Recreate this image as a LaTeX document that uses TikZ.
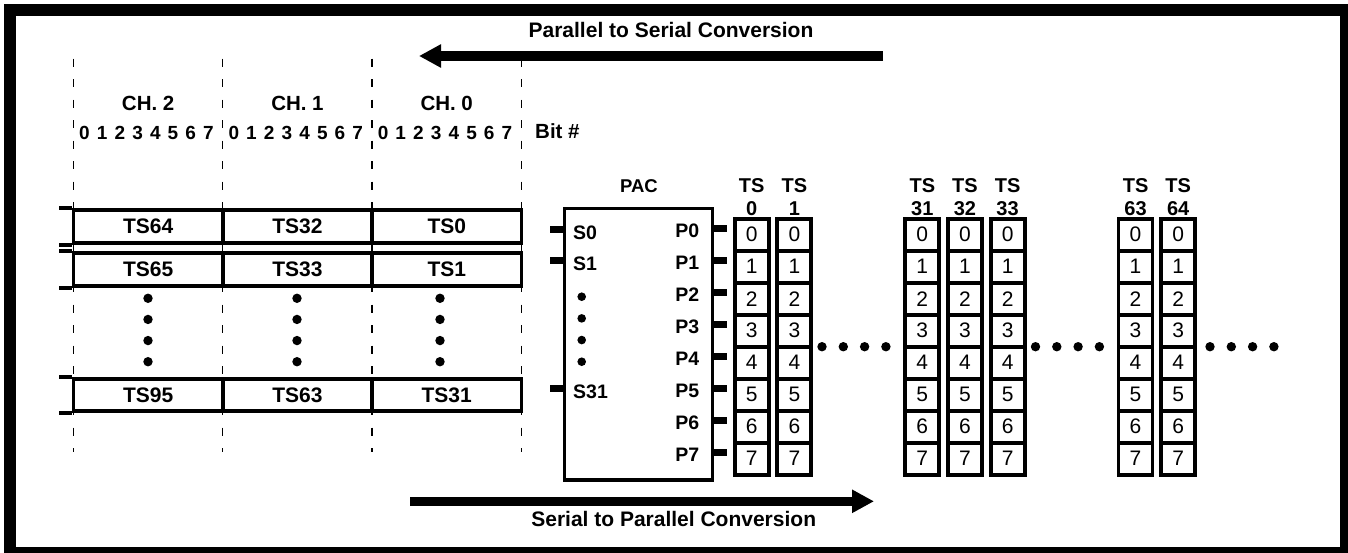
\documentclass[tikz,border=0pt]{standalone}
\usepackage{fontspec}
\setmainfont{Liberation Sans}
\usetikzlibrary{arrows.meta}
\begin{document}
\begin{tikzpicture}[x=1pt,y=-1pt,
  lbl/.style={font=\bfseries\fontsize{20.5}{24}\selectfont, inner sep=0pt, anchor=base},
  biglbl/.style={font=\bfseries\fontsize{21}{24}\selectfont, inner sep=0pt, anchor=base},
  bitnum/.style={font=\bfseries\fontsize{19}{22}\selectfont, inner sep=0pt, anchor=base},
  pinlbl/.style={font=\bfseries\fontsize{19.5}{22}\selectfont, inner sep=0pt},
  tscell/.style={draw, line width=3.8pt, minimum width=149.3pt, minimum height=32.7pt, inner sep=0pt, font=\bfseries\fontsize{21}{24}\selectfont},
  bitcell/.style={draw, line width=3.8pt, minimum width=34pt, minimum height=32pt, inner sep=0pt, font=\fontsize{21}{24}\selectfont},
  blob/.style={circle, fill, inner sep=0pt, minimum size=9.4pt},
  pin/.style={line width=7pt},
  bigarrow/.style={line width=10pt, -{Triangle[length=22pt,width=22pt]}},
  guide/.style={line width=1.2pt, dash pattern=on 8pt off 12.5pt},
]
\useasboundingbox (0,0) rectangle (1348,552);
\clip (0,0) rectangle (1348,552);
% frame
\draw[line width=11.5pt] (9.75,10) rectangle (1345.75,552.25);

% conversion arrows
\coordinate (ptsTail) at (883,56);
\coordinate (ptsTip) at (419,56);
\draw[bigarrow] (ptsTail) -- (ptsTip);
\node[biglbl] (ptsLbl) at (671,37.3) {Parallel to Serial Conversion};
\coordinate (stpTail) at (410,501.3);
\coordinate (stpTip) at (874,501.3);
\draw[bigarrow, line width=9.5pt] (stpTail) -- (stpTip);
\node[biglbl] (stpLbl) at (673.7,526.7) {Serial to Parallel Conversion};

% dashed guides
\foreach \gx [count=\g] in {73.5,222.8,372.05,521.4}{
  \coordinate (gt\g) at (\gx,58.5);
  \coordinate (gb\g) at (\gx,452);
  \draw[guide] (gt\g) -- (gb\g);
}

% channel headers and bit numbers
\foreach \gx/\ch [count=\g] in {73.5/2,222.8/1,372.05/0}{
  \node[lbl] (ch\ch) at ({\gx+74.65},110.7) {CH. \ch};
  \foreach \b in {0,...,7}{
    \node[bitnum] (bit\ch-\b) at ({\gx+11+17.7*\b},139.3) {\b};
  }
}
\node[lbl, anchor=base west] (bitlbl) at (535,138.5) {Bit \#};

% serial time-slot rows
\foreach \ry/\ta/\tb/\tc [count=\r] in {226.6/64/32/0, 269.4/65/33/1, 395/95/63/31}{
  \node[tscell] (r\r a) at (148.15,\ry) {TS\ta};
  \node[tscell] (r\r b) at (297.4,\ry) {TS\tb};
  \node[tscell] (r\r c) at (446.75,\ry) {TS\tc};
  \draw[line width=3.8pt] (r\r a.north west) -- ++(-12.5,0);
  \draw[line width=3.8pt] (r\r a.south west) -- ++(-12.5,0);
}
\foreach \dx [count=\d] in {148,297,440}{
  \foreach \k in {0,...,3}{
    \node[blob] (rd\d-\k) at (\dx,{298.3+21.13*\k}) {};
  }
}

% PAC
\node[pinlbl, anchor=base, font=\bfseries\fontsize{18.5}{22}\selectfont] (paclbl) at (639,192.3) {PAC};
\node[draw, line width=3.3pt, minimum width=148.4pt, minimum height=271.7pt, inner sep=0pt] (pac) at (638.5,344.15) {};
\foreach \sy/\sn in {229.5/0, 260.7/1, 388.8/31}{
  \coordinate (s\sn) at (550,\sy);
  \draw[pin] (s\sn) -- (s\sn -| pac.west);
  \node[pinlbl, anchor=base west] (sl\sn) at (573,{\sy+9.5}) {S\sn};
}
\foreach \k in {0,...,3}{
  \node[blob, minimum size=8.6pt] (pd\k) at (581.7,{296.7+21.67*\k}) {};
}
\foreach \k in {0,...,7}{
  \coordinate (p\k) at (727,{228.7+32*\k});
  \draw[pin] (p\k -| pac.east) -- (p\k);
  \node[pinlbl, anchor=base east] (pl\k) at (699.5,{228.7+32*\k+8.8}) {P\k};
}

% parallel time-slot columns
\foreach \s/\n in {0/0,1/1,4/31,5/32,6/33,9/63,10/64}{
  \node[bitnum, font=\bfseries\fontsize{20}{22}\selectfont] (hts\n) at ({751.7+42.65*\s},192.3) {TS};
  \node[bitnum, font=\bfseries\fontsize{20}{22}\selectfont] (hn\n) at ({751.7+42.65*\s},215.5) {\n};
  \foreach \k in {0,...,7}{
    \node[bitcell] (c\n-\k) at ({751.7+42.65*\s},{234.7+32*\k}) {\k};
  }
}
\foreach \gstart [count=\gi] in {822,1035.5,1210}{
  \foreach \k in {0,...,3}{
    \node[blob] (cd\gi-\k) at ({\gstart+21.3*\k},346.7) {};
  }
}
\end{tikzpicture}
\end{document}
